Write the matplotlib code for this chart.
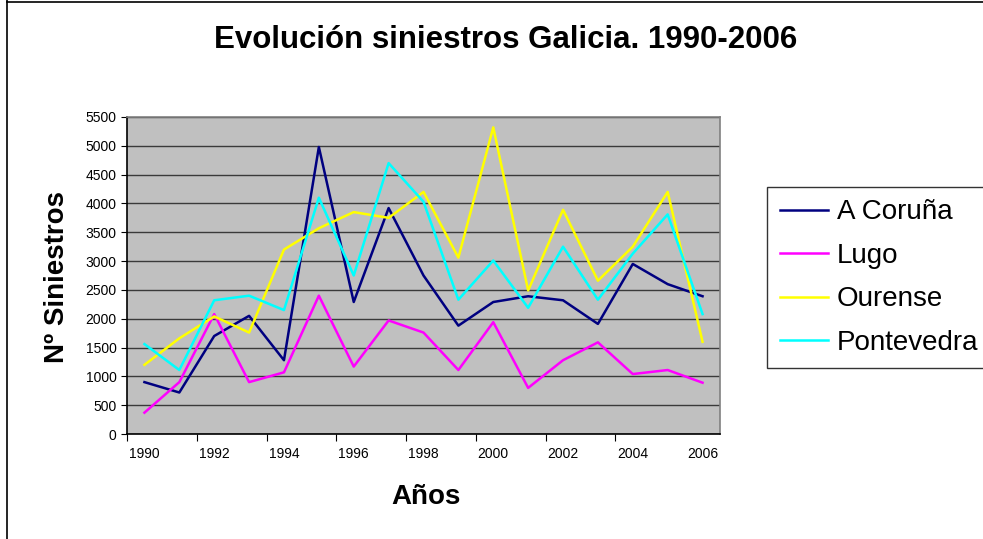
import matplotlib

matplotlib.use("Agg")
import matplotlib.pyplot as plt
from matplotlib.lines import Line2D

years = list(range(1990, 2007))
coruna = [900, 720, 1700, 2050, 1280, 4980, 2290, 3920, 2750, 1880, 2290, 2390, 2320, 1910, 2950, 2600, 2390]
lugo = [370, 900, 2080, 900, 1070, 2400, 1170, 1970, 1760, 1110, 1940, 800, 1280, 1590, 1040, 1110, 890]
ourense = [1200, 1660, 2040, 1760, 3200, 3570, 3850, 3750, 4200, 3060, 5320, 2490, 3890, 2660, 3250, 4200, 1600]
pontevedra = [1560, 1110, 2320, 2400, 2150, 4100, 2750, 4700, 4030, 2330, 3010, 2190, 3250, 2330, 3130, 3810, 2080]
series = ["A Coruña", "Lugo", "Ourense", "Pontevedra"]
colors = ["#000080", "#FF00FF", "#FFFF00", "#00FFFF"]

plt.rcParams["font.family"] = ["Liberation Sans", "DejaVu Sans"]

W, H = 983, 539
fig = plt.figure(figsize=(W / 100, H / 100), dpi=100)
# chart border (cut off at right and bottom in the original)
fig.add_artist(Line2D([7 / W, 7 / W], [0, 1], transform=fig.transFigure, color="black", linewidth=1.2))
fig.add_artist(Line2D([7 / W, 1], [1 - 1.5 / H, 1 - 1.5 / H], transform=fig.transFigure,
                      color="black", linewidth=1.2))

ax = fig.add_axes([127 / W, 1 - 434 / H, 593 / W, 317 / H])
ax.set_facecolor("#C0C0C0")
x = list(range(len(years)))
for name, vals, c in zip(series, [coruna, lugo, ourense, pontevedra], colors):
    ax.plot(x, vals, color=c, linewidth=1.8, label=name)

ax.set_xlim(-0.5, len(years) - 0.5)
ax.set_ylim(0, 5500)
ax.set_yticks(range(0, 5501, 500))
ax.yaxis.grid(True, color="#3a3a3a", linewidth=1.0)
ax.set_axisbelow(True)
ax.set_xticks([i - 0.5 for i in range(0, len(years) - 1, 2)])
ax.set_xticklabels([])
ax.set_xticks(x[::2], minor=True)
ax.set_xticklabels([str(y) for y in years[::2]], minor=True, fontsize=10)
ax.tick_params(axis="x", which="minor", length=0, pad=9)
ax.tick_params(axis="x", which="major", length=5, direction="out", color="black")
ax.tick_params(axis="y", labelsize=10, length=4, color="black")
for s in ["top", "right"]:
    ax.spines[s].set_color("#808080")
    ax.spines[s].set_linewidth(1.2)
for s in ["left", "bottom"]:
    ax.spines[s].set_color("black")
    ax.spines[s].set_linewidth(1.2)

fig.text(426 / W, 1 - 497 / H, "Años", ha="center", va="center", fontsize=20, fontweight="bold")
fig.text(57 / W, 1 - 277 / H, "Nº Siniestros", ha="center", va="center", rotation=90,
         fontsize=20, fontweight="bold")
fig.text(506 / W, 1 - 40 / H, "Evolución siniestros Galicia. 1990-2006", ha="center", va="center",
         fontsize=22.5, fontweight="bold")

leg = fig.legend(loc="upper left", bbox_to_anchor=(767 / W, 1 - 187 / H), borderaxespad=0,
                 fontsize=20, frameon=True, fancybox=False, edgecolor="black", handlelength=1.76,
                 borderpad=0.45, labelspacing=0.63, handletextpad=0.3)
leg.get_frame().set_linewidth(1.0)

fig.savefig("out.png", dpi=100)
